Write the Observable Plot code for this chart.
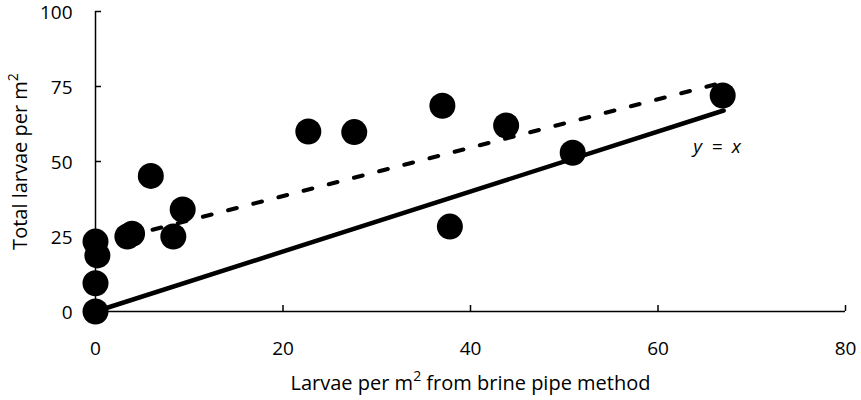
<!DOCTYPE html>
<html>
<head>
<meta charset="utf-8">
<script src="https://cdn.jsdelivr.net/npm/d3@7"></script>
<script src="https://cdn.jsdelivr.net/npm/@observablehq/plot@0.6"></script>
<style>
  html, body { margin: 0; padding: 0; background: #fff; }
</style>
</head>
<body>
<div id="chart"></div>
<script>
// Data
const brineX = [0, 0, 0.2, 0, 3.4, 3.9, 5.9, 8.3, 9.3, 22.7, 27.6, 37.0, 37.8, 43.8, 50.9, 66.9];
const totalY = [0, 9.4, 18.7, 23.3, 25.0, 25.9, 45.2, 25.0, 34.0, 60.0, 59.8, 68.6, 28.3, 62.0, 52.9, 72.0];

// y = x reference line endpoints
const identityX = [0, 67];
const identityY = [0, 67];

// fitted (dashed) line endpoints
const trendX = [3.4, 67];
const trendY = [25.1, 76.4];

// tick values
const xTicks = [0, 20, 40, 60, 80];
const yTicks = [0, 25, 50, 75, 100];

// annotation
const annotX = [66.3];
const annotY = [55.0];
const annotText = ["y\u2002=\u2002x"];

const xTitle = "Larvae per m² from brine pipe method";
const yTitle = "Total larvae per m²";

const points = brineX.map((x, i) => ({x, y: totalY[i]}));
const identity = identityX.map((x, i) => ({x, y: identityY[i]}));
const trend = trendX.map((x, i) => ({x, y: trendY[i]}));
const annot = annotX.map((x, i) => ({x, y: annotY[i], text: annotText[i]}));

const chart = Plot.plot({
  width: 861,
  height: 400,
  marginLeft: 95,
  marginRight: 16,
  marginTop: 11,
  marginBottom: 89,
  x: {domain: [0, 80]},
  y: {domain: [0, 100]},
  style: {fontFamily: "'Open Sans', sans-serif", fontSize: "19px", color: "#000", background: "#fff", overflow: "visible"},
  marks: [
    Plot.ruleY([0], {strokeWidth: 1.5}),
    Plot.ruleX([0], {strokeWidth: 1.5}),
    Plot.axisX({ticks: xTicks, tickSize: 0, tickPadding: 30, label: null, fontSize: 19}),
    Plot.axisX({ticks: xTicks.slice(1), tickSize: 6, dy: -6, text: null, label: null, strokeWidth: 1.5}),
    Plot.axisY({ticks: yTicks, tickSize: 0, tickPadding: 23, dy: 1.5, label: null, fontSize: 19}),
    Plot.axisY({ticks: yTicks.slice(1), tickSize: 6, dx: 6, text: null, label: null, strokeWidth: 1.5}),
    Plot.line(identity, {x: "x", y: "y", stroke: "#000", strokeWidth: 4.5}),
    Plot.line(trend, {x: "x", y: "y", stroke: "#000", strokeWidth: 4, strokeDasharray: "9,17"}),
    Plot.dot(points, {x: "x", y: "y", r: 13, fill: "#000", stroke: "none"}),
    Plot.text(annot, {x: "x", y: "y", text: "text", fontStyle: "italic", fontSize: 19, textAnchor: "middle", lineAnchor: "middle"}),
    Plot.text([xTitle], {frameAnchor: "bottom", dy: 72, fontSize: 20, textAnchor: "middle", lineAnchor: "middle"}),
    Plot.text([yTitle], {frameAnchor: "left", rotate: -90, dx: -75, fontSize: 20, textAnchor: "middle", lineAnchor: "middle"})
  ]
});

// Render the "²" as a true superscript
chart.querySelectorAll("text").forEach(t => {
  if (t.textContent.includes("²")) {
    const parts = t.textContent.split("²");
    while (t.firstChild) t.removeChild(t.firstChild);
    parts.forEach((p, i) => {
      t.appendChild(document.createTextNode(p));
      if (i < parts.length - 1) {
        const ts = document.createElementNS("http://www.w3.org/2000/svg", "tspan");
        ts.setAttribute("baseline-shift", "super");
        ts.setAttribute("font-size", "70%");
        ts.textContent = "2";
        t.appendChild(ts);
      }
    });
  }
});

document.getElementById("chart").appendChild(chart);
</script>
</body>
</html>
